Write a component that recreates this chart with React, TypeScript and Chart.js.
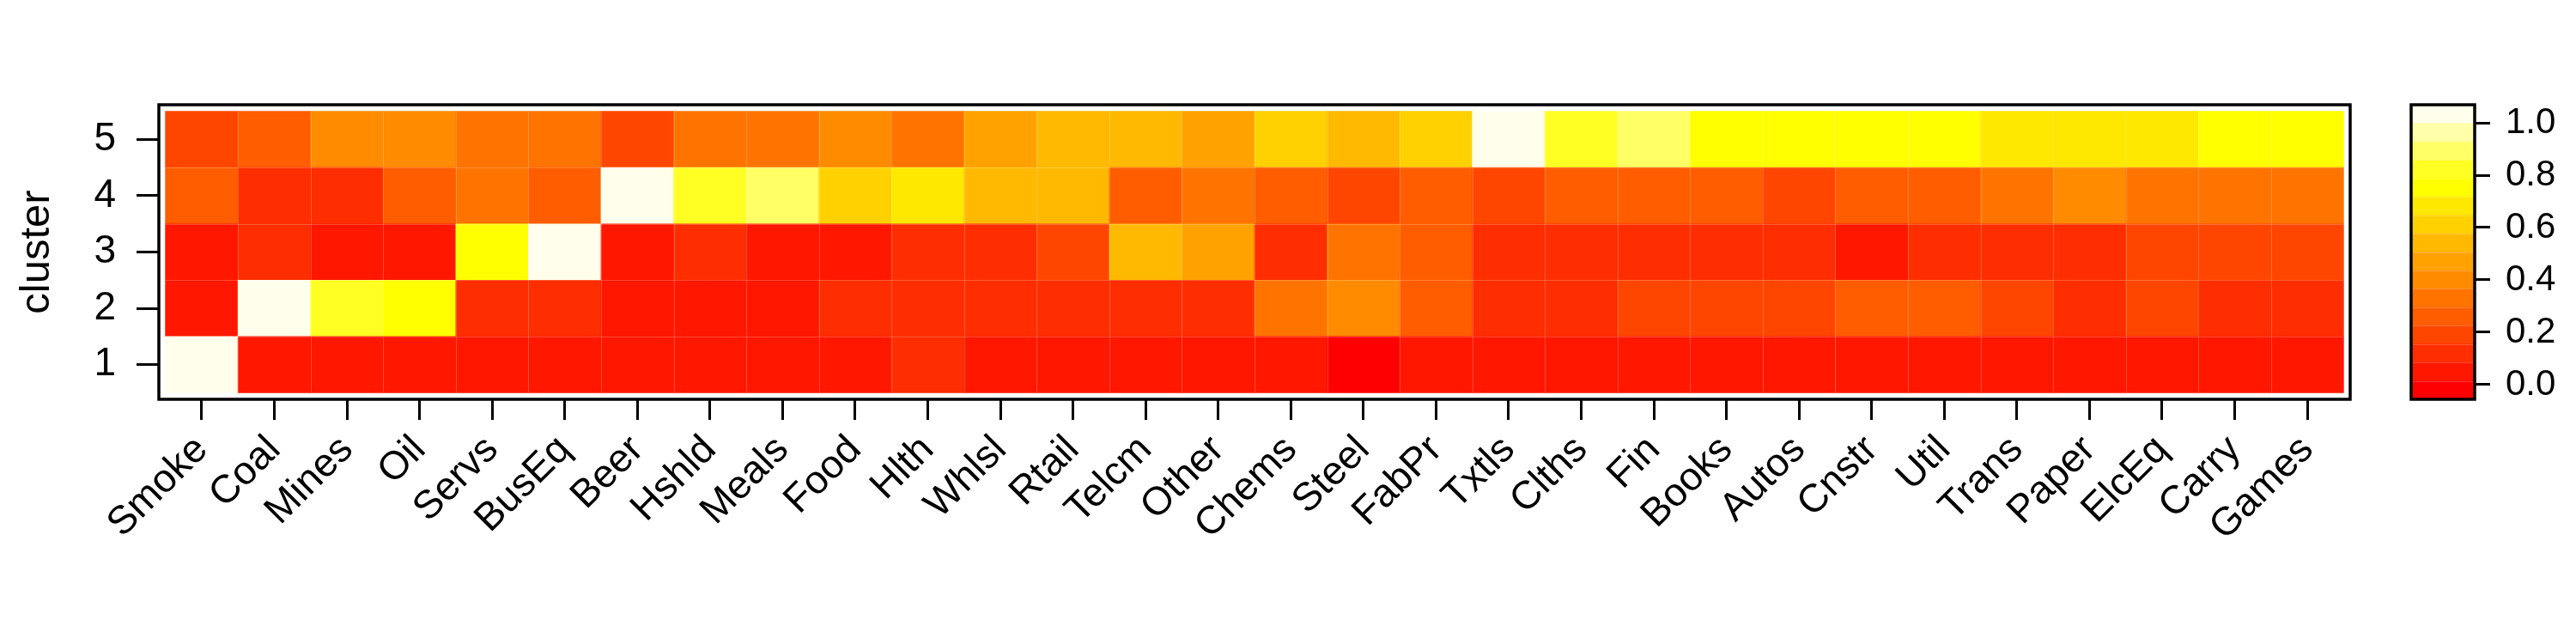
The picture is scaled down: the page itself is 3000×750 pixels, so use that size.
import React, { useEffect, useRef } from "react";
import { Chart, registerables } from "chart.js";

Chart.register(...registerables);

// ---------- data ----------
const categories = [
  "Smoke", "Coal", "Mines", "Oil", "Servs", "BusEq", "Beer", "Hshld", "Meals", "Food",
  "Hlth", "Whlsl", "Rtail", "Telcm", "Other", "Chems", "Steel", "FabPr", "Txtls", "Clths",
  "Fin", "Books", "Autos", "Cnstr", "Util", "Trans", "Paper", "ElcEq", "Carry", "Games",
];

const clusters = [1, 2, 3, 4, 5];

const cluster1 = [1.0, 0.05, 0.05, 0.05, 0.05, 0.05, 0.05, 0.05, 0.05, 0.05, 0.12, 0.05, 0.05, 0.05, 0.05, 0.05, -0.02, 0.05, 0.05, 0.05, 0.05, 0.05, 0.05, 0.05, 0.05, 0.05, 0.05, 0.05, 0.05, 0.05];
const cluster2 = [0.05, 1.0, 0.82, 0.75, 0.12, 0.12, 0.05, 0.05, 0.05, 0.12, 0.12, 0.12, 0.12, 0.12, 0.12, 0.33, 0.4, 0.26, 0.12, 0.12, 0.19, 0.19, 0.19, 0.26, 0.26, 0.19, 0.12, 0.19, 0.12, 0.12];
const cluster3 = [0.05, 0.12, 0.05, 0.05, 0.75, 1.0, 0.05, 0.12, 0.05, 0.05, 0.12, 0.12, 0.19, 0.54, 0.47, 0.12, 0.33, 0.26, 0.12, 0.12, 0.12, 0.12, 0.12, 0.05, 0.12, 0.12, 0.12, 0.19, 0.19, 0.19];
const cluster4 = [0.26, 0.12, 0.12, 0.26, 0.33, 0.26, 1.0, 0.82, 0.89, 0.61, 0.68, 0.54, 0.54, 0.26, 0.33, 0.26, 0.19, 0.26, 0.19, 0.26, 0.26, 0.26, 0.19, 0.26, 0.26, 0.33, 0.4, 0.33, 0.33, 0.33];
const cluster5 = [0.19, 0.26, 0.4, 0.4, 0.33, 0.33, 0.19, 0.33, 0.33, 0.4, 0.33, 0.47, 0.54, 0.54, 0.47, 0.61, 0.54, 0.61, 1.0, 0.82, 0.89, 0.75, 0.75, 0.75, 0.75, 0.68, 0.68, 0.68, 0.75, 0.75];

const legendTicks = [0, 0.2, 0.4, 0.6, 0.8, 1.0];
const zMin = -0.056;
const zMax = 1.069;

const palette = [
  "#FF0000", "#FF1700", "#FF2E00", "#FF4600", "#FF5D00", "#FF7400", "#FF8B00", "#FFA200",
  "#FFB900", "#FFD100", "#FFE800", "#FFFF00", "#FFFF24", "#FFFF66", "#FFFFAA", "#FFFFEC",
];

// ---------- helpers ----------
const FONT = "'Liberation Sans', Arial, Helvetica, sans-serif";
const rows = [cluster1, cluster2, cluster3, cluster4, cluster5];

function colorFor(v: number): string {
  const n = palette.length;
  let k = Math.floor(((v - zMin) / (zMax - zMin)) * n);
  if (k < 0) k = 0;
  if (k > n - 1) k = n - 1;
  return palette[k];
}

const framePlugin = {
  id: "frameBox",
  afterDraw(chart: any) {
    const { ctx, chartArea: a } = chart;
    ctx.save();
    ctx.strokeStyle = "#000";
    ctx.lineWidth = 3.5;
    ctx.strokeRect(a.left, a.top, a.right - a.left, a.bottom - a.top);
    ctx.restore();
  },
};

// faint seams between heat-map cells (anti-aliasing look of the original)
const seamPlugin = {
  id: "cellSeams",
  afterDatasetsDraw(chart: any) {
    const { ctx } = chart;
    const xs = chart.scales.x;
    const ys = chart.scales.y;
    const x0 = xs.getPixelForValue(0.5);
    const x1 = xs.getPixelForValue(categories.length + 0.5);
    const y0 = ys.getPixelForValue(0.5);
    const y1 = ys.getPixelForValue(clusters.length + 0.5);
    ctx.save();
    ctx.strokeStyle = "rgba(255,255,255,0.22)";
    ctx.lineWidth = 1;
    ctx.beginPath();
    for (let i = 1; i < categories.length; i++) {
      const px = Math.round(xs.getPixelForValue(i + 0.5)) + 0.5;
      ctx.moveTo(px, y1);
      ctx.lineTo(px, y0);
    }
    for (let j = 1; j < clusters.length; j++) {
      const py = Math.round(ys.getPixelForValue(j + 0.5)) + 0.5;
      ctx.moveTo(x0, py);
      ctx.lineTo(x1, py);
    }
    ctx.stroke();
    ctx.restore();
  },
};

const legendSeamPlugin = {
  id: "legendSeams",
  afterDatasetsDraw(chart: any) {
    const { ctx, chartArea: a } = chart;
    const ys = chart.scales.y;
    const step = (zMax - zMin) / palette.length;
    ctx.save();
    ctx.strokeStyle = "rgba(255,255,255,0.22)";
    ctx.lineWidth = 1;
    ctx.beginPath();
    for (let k = 1; k < palette.length; k++) {
      const py = Math.round(ys.getPixelForValue(zMin + k * step)) + 0.5;
      ctx.moveTo(a.left, py);
      ctx.lineTo(a.right, py);
    }
    ctx.stroke();
    ctx.restore();
  },
};

export default function App() {
  const mainRef = useRef<HTMLCanvasElement | null>(null);
  const legRef = useRef<HTMLCanvasElement | null>(null);

  useEffect(() => {
    if (!mainRef.current || !legRef.current) return;

    const main = new Chart(mainRef.current, {
      type: "bar",
      data: {
        datasets: rows.map((vals, r) => ({
          label: `cluster ${clusters[r]}`,
          data: categories.map((_, i) => ({ x: i + 1, y: [clusters[r] - 0.5, clusters[r] + 0.5] })),
          backgroundColor: vals.map(colorFor),
          borderWidth: 0,
          grouped: false,
          barPercentage: 1,
          categoryPercentage: 1,
        })),
      } as any,
      options: {
        animation: false,
        responsive: false,
        maintainAspectRatio: false,
        layout: { padding: { left: 0, top: 122, right: 23, bottom: 0 } },
        plugins: { legend: { display: false }, tooltip: { enabled: false } },
        scales: {
          x: {
            type: "linear",
            offset: false,
            min: 0.5 - 0.09,
            max: categories.length + 0.5 + 0.09,
            afterBuildTicks: (s: any) => {
              s.ticks = categories.map((_, i) => ({ value: i + 1 }));
            },
            afterFit: (s: any) => {
              s.height = 285;
            },
            grid: {
              offset: false,
              drawOnChartArea: false,
              drawTicks: true,
              tickLength: 24,
              tickWidth: 3,
              tickColor: "#000",
            },
            border: { display: false },
            ticks: {
              autoSkip: false,
              maxRotation: 45,
              minRotation: 45,
              padding: 8,
              color: "#000",
              font: { family: FONT, size: 46 },
              callback: (v: any) => categories[Math.round(Number(v)) - 1] ?? "",
            },
          },
          y: {
            type: "linear",
            min: 0.5 - 0.115,
            max: clusters.length + 0.5 + 0.115,
            afterBuildTicks: (s: any) => {
              s.ticks = clusters.map((c) => ({ value: c }));
            },
            afterFit: (s: any) => {
              s.width = 185;
            },
            grid: {
              drawOnChartArea: false,
              drawTicks: true,
              tickLength: 26,
              tickWidth: 3,
              tickColor: "#000",
            },
            border: { display: false },
            ticks: {
              padding: 24,
              color: "#000",
              font: { family: FONT, size: 46 },
              callback: (v: any) => String(v),
            },
            title: {
              display: true,
              text: "cluster",
              color: "#000",
              font: { family: FONT, size: 49 },
              padding: { top: 14, bottom: 0 },
            },
          },
        },
      } as any,
      plugins: [seamPlugin, framePlugin],
    });

    const step = (zMax - zMin) / palette.length;
    const legend = new Chart(legRef.current, {
      type: "bar",
      data: {
        labels: ["z"],
        datasets: palette.map((col, k) => ({
          data: [[zMin + k * step, zMin + (k + 1) * step]],
          backgroundColor: col,
          borderWidth: 0,
          grouped: false,
          barPercentage: 1,
          categoryPercentage: 1,
        })),
      } as any,
      options: {
        animation: false,
        responsive: false,
        maintainAspectRatio: false,
        layout: { padding: { left: 48, top: 122, right: 0, bottom: 285 } },
        plugins: { legend: { display: false }, tooltip: { enabled: false } },
        scales: {
          x: { display: false },
          y: {
            position: "right",
            min: zMin,
            max: zMax,
            afterBuildTicks: (s: any) => {
              s.ticks = legendTicks.map((v) => ({ value: v }));
            },
            afterFit: (s: any) => {
              s.width = 118;
            },
            grid: {
              drawOnChartArea: false,
              drawTicks: true,
              tickLength: 18,
              tickWidth: 3,
              tickColor: "#000",
            },
            border: { display: false },
            ticks: {
              padding: 18,
              color: "#000",
              font: { family: FONT, size: 42 },
              callback: (v: any) => Number(v).toFixed(1),
            },
          },
        },
      } as any,
      plugins: [legendSeamPlugin, framePlugin],
    });

    return () => {
      main.destroy();
      legend.destroy();
    };
  }, []);

  return (
    <div style={{ position: "absolute", left: 0, top: 0, width: 3000, height: 750, background: "#fff" }}>
      <canvas ref={mainRef} width={2760} height={750} style={{ position: "absolute", left: 0, top: 0 }} />
      <canvas ref={legRef} width={240} height={750} style={{ position: "absolute", left: 2760, top: 0 }} />
    </div>
  );
}
